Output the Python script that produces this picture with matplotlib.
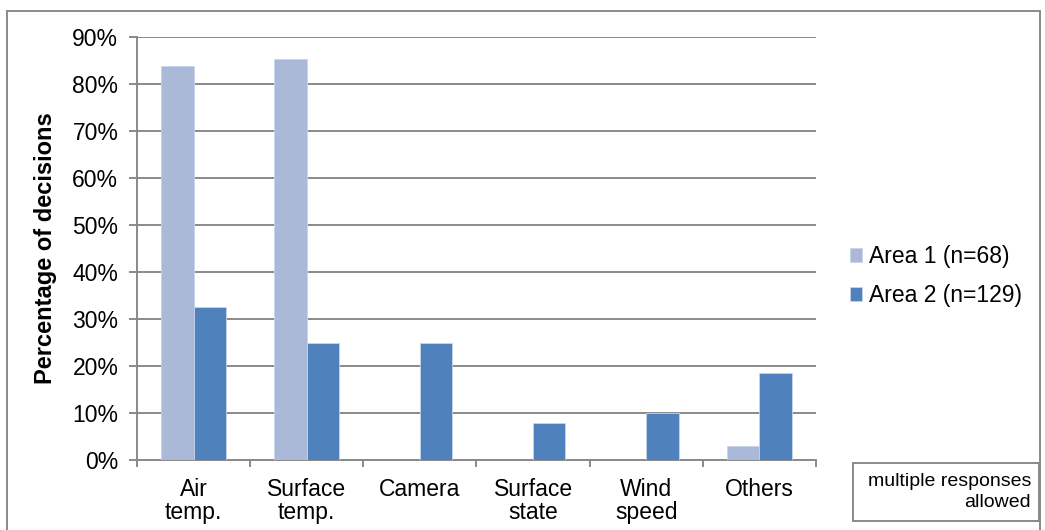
import matplotlib.pyplot as plt
import numpy as np
from matplotlib.patches import Rectangle

categories = ["Air\ntemp.", "Surface\ntemp.", "Camera", "Surface\nstate", "Wind\nspeed", "Others"]
area1 = [83.8, 85.3, 0.0, 0.0, 0.0, 2.9]
area2 = [32.6, 24.8, 24.8, 7.8, 10.1, 18.6]
labels = ["Area 1 (n=68)", "Area 2 (n=129)"]
colors = ["#A9B9D7", "#4F81BD"]

plt.rcParams['font.family'] = ['Liberation Sans', 'DejaVu Sans']

W, H = 1045, 530
fig = plt.figure(figsize=(W / 100, H / 100), dpi=100)
ax = fig.add_axes([137 / W, 1 - 460 / H, (816 - 137) / W, (460 - 37) / H])

x = np.arange(len(categories))
bw = 0.285
for vals, lab, col, off in [(area1, labels[0], colors[0], -bw / 2), (area2, labels[1], colors[1], bw / 2)]:
    ax.bar(x + off, vals, width=bw, color=col, edgecolor="#C9D5EA", linewidth=0.6,
           label=lab, zorder=3)

ax.set_xlim(-0.5, len(categories) - 0.5)
ax.set_ylim(0, 90)
ax.set_yticks(np.arange(0, 91, 10))
ax.set_yticklabels([f"{v}%" for v in range(0, 91, 10)], fontsize=16.5)
ax.yaxis.grid(True, color="#8A8A8A", linewidth=1.4, zorder=0)
ax.set_axisbelow(True)

# category labels sit between the boundary ticks
ax.set_xticks(np.arange(-0.5, len(categories), 1))
ax.set_xticklabels([])
ax.set_xticks(x, minor=True)
ax.set_xticklabels(categories, minor=True, fontsize=16.5, linespacing=1.0)
ax.tick_params(axis='x', which='minor', length=0, pad=13)
ax.tick_params(axis='x', which='major', length=5, width=1.4, color="#8A8A8A")
ax.tick_params(axis='y', length=6, width=1.4, color="#8A8A8A", pad=7.5)

for side in ["top", "right"]:
    ax.spines[side].set_visible(False)
for side in ["left", "bottom"]:
    ax.spines[side].set_color("#8A8A8A")
    ax.spines[side].set_linewidth(1.4)

ax.set_ylabel("Percentage of decisions", fontsize=17, fontweight="bold", labelpad=11)

fig.legend(loc="center left", bbox_to_anchor=(829 / W, 1 - 276 / H), frameon=False,
           fontsize=16.5, handlelength=0.55, handleheight=0.55, handletextpad=0.3,
           labelspacing=0.7)

# outer chart frame
fig.patches.append(Rectangle((7 / W, -0.05), (1040 - 7) / W, 1.05 - 11 / H,
                             transform=fig.transFigure, fill=False,
                             edgecolor="#8A8A8A", linewidth=1.4))

# note box
fig.patches.append(Rectangle((853 / W, 1 - 521 / H), (1039 - 853) / W, (521 - 463) / H,
                             transform=fig.transFigure, fill=False,
                             edgecolor="#8A8A8A", linewidth=1.4))
fig.text(1031 / W, 1 - 492 / H, "multiple responses\nallowed", ha="right", va="center",
         fontsize=14, linespacing=1.25)

fig.savefig("out.png", dpi=100)
